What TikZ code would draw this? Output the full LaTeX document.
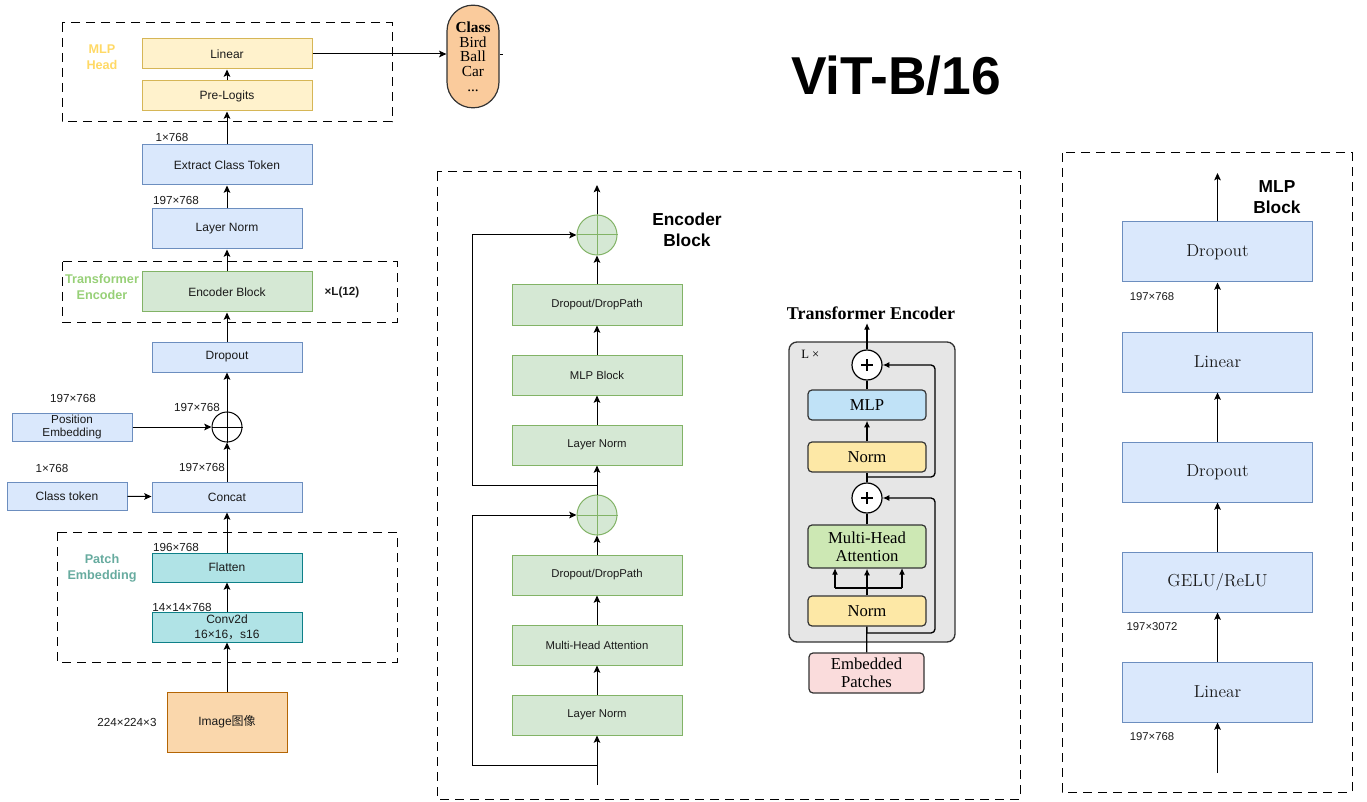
\documentclass[tikz,border=0pt]{standalone}
\usepackage{fontspec}
\newfontfamily\sfA{Liberation Sans}
\newfontfamily\srf{Liberation Serif}
\newfontfamily\cjk{Noto Sans CJK SC}
\usetikzlibrary{arrows.meta,shapes.geometric,calc}
\definecolor{yelF}{HTML}{FFF2CC}\definecolor{yelD}{HTML}{D6B656}
\definecolor{bluF}{HTML}{DAE8FC}\definecolor{bluD}{HTML}{6C8EBF}
\definecolor{grnF}{HTML}{D5E8D4}\definecolor{grnD}{HTML}{82B366}
\definecolor{tealF}{HTML}{B0E3E6}\definecolor{tealD}{HTML}{0E8088}
\definecolor{orF}{HTML}{FAD7AC}\definecolor{orD}{HTML}{B46504}
\definecolor{capF}{HTML}{FACB9C}
\definecolor{grayF}{HTML}{E6E6E6}
\definecolor{bluT}{HTML}{C0E2F7}\definecolor{yelT}{HTML}{FDE8A6}
\definecolor{grnT}{HTML}{CDE8B4}\definecolor{pinkT}{HTML}{FADCDC}
\definecolor{lblY}{HTML}{FFD966}\definecolor{lblG}{HTML}{97D077}\definecolor{lblT}{HTML}{67AB9F}
\definecolor{txt}{HTML}{1A1A1A}
\tikzset{
  base/.style={draw, line width=0.75pt, inner sep=0pt, align=center, text=txt,
    font=\sfA\fontsize{9}{10.5}\selectfont},
  yelbox/.style={base, fill=yelF, draw=yelD, minimum width=127.5pt, minimum height=22.5pt},
  blubox/.style={base, fill=bluF, draw=bluD},
  grnbox/.style={base, fill=grnF, draw=grnD},
  tealbox/.style={base, fill=tealF, draw=tealD, minimum width=112.5pt},
  encbox/.style={grnbox, minimum width=127.5pt, minimum height=30pt, font=\sfA\fontsize{8.5}{10}\selectfont},
  mlpbox/.style={blubox, minimum width=142.5pt, minimum height=45pt, font=\rmfamily\fontsize{13}{15}\selectfont},
  gcirc/.style={circle, draw=grnD, fill=grnF, line width=0.75pt, minimum size=30pt, inner sep=0pt},
  bcirc/.style={circle, draw=black, line width=0.75pt, minimum size=22.5pt, inner sep=0pt},
  dbox/.style={draw, line width=0.75pt, dash pattern=on 6.75pt off 4.5pt},
  lbl/.style={font=\sfA\fontsize{8.75}{10}\selectfont, text=txt, inner sep=0pt},
  seclbl/.style={font=\sfA\bfseries\fontsize{9.5}{12}\selectfont, align=center, inner sep=0pt},
  arr/.style={-{Stealth[length=5.5pt,width=5pt,inset=1.2pt]}, line width=0.75pt},
  tbox/.style={draw=black!80, line width=0.9pt, rounded corners=3pt, inner sep=0pt, align=center,
    minimum width=88.5pt, minimum height=22.5pt, font=\srf\fontsize{12.5}{13}\selectfont},
  tcirc/.style={circle, draw=black, fill=white, line width=0.9pt, minimum size=22.5pt, inner sep=0pt},
  tline/.style={line width=1pt},
  tarr/.style={-{Latex[length=5pt,width=4.5pt]}, line width=1pt},
}
\begin{document}
\begin{tikzpicture}[x=0.75pt,y=-0.75pt]
\useasboundingbox (0,0) rectangle (1367,802);
% ---------------- left column ----------------
\draw[dbox] (62,23) rectangle (392,122);
\draw[dbox] (62,262) rectangle (397,322);
\draw[dbox] (57,532) rectangle (397,662);

\node[yelbox] (lin) at (227,54) {Linear};
\node[yelbox] (pre) at (227,96) {Pre-Logits};
\node[blubox, minimum width=127.5pt, minimum height=30pt] (ect) at (227,165) {Extract Class Token};
\node[blubox, minimum width=112.5pt, minimum height=30pt] (ln) at (227,229) {Layer Norm};
\node[grnbox, minimum width=127.5pt, minimum height=30pt] (enc) at (227,292) {Encoder Block};
\node[blubox, minimum width=112.5pt, minimum height=22.5pt] (drop) at (227,357) {Dropout};
\node[bcirc] (plus) at (227,427) {};
\node[blubox, minimum width=90pt, minimum height=21pt, font=\sfA\fontsize{8.75}{9.5}\selectfont] (pos) at (72,427) {Position\\Embedding};
\node[blubox, minimum width=90pt, minimum height=21pt] (cls) at (67,496) {Class token};
\node[blubox, minimum width=112.5pt, minimum height=22.5pt] (concat) at (227,497) {Concat};
\node[tealbox, minimum height=21.75pt] (flat) at (227,567.5) {Flatten};
\node[tealbox, minimum height=22.5pt, font=\sfA\fontsize{9}{11}\selectfont] (conv) at (227,627) {Conv2d\\16×16{\cjk ，}s16};
\node[base, fill=orF, draw=orD, minimum width=90pt, minimum height=45pt] (img) at (227,722) {Image{\cjk 图像}};
\node[draw=black!80, fill=capF, line width=0.9pt, rounded corners=19.4pt, minimum width=39pt, minimum height=77pt,
  inner sep=0pt, align=center, font=\srf\fontsize{11.5}{11}\selectfont] (cap) at (473,56.5)
  {\textbf{Class}\\Bird\\Ball\\Car\\...};
\coordinate (capstub) at (503,54);

\draw (plus.north) -- (plus.south) (plus.west) -- (plus.east);
\draw[arr] (img) -- (conv);
\draw[arr] (conv) -- (flat);
\draw[arr] (flat) -- (concat);
\draw[arr] (cls) -- (concat);
\draw[arr] (concat) -- (plus);
\draw[arr] (pos) -- (plus);
\draw[arr] (plus) -- (drop);
\draw[arr] (drop) -- (enc);
\draw[arr] (enc) -- (ln);
\draw[arr] (ln) -- (ect);
\draw[arr] (ect) -- (pre);
\draw[arr] (pre) -- (lin);
\draw[arr] (lin.east) -- (lin.east -| cap.west);
\draw[line width=0.6pt] (cap.east |- capstub) -- (capstub);

\node[lbl] (l1) at (172,137) {1×768};
\node[lbl] (l2) at (176,200) {197×768};
\node[lbl] (l3) at (73,398) {197×768};
\node[lbl] (l4) at (197,407) {197×768};
\node[lbl] (l5) at (202,467) {197×768};
\node[lbl] (l6) at (52,468) {1×768};
\node[lbl] (l7) at (176,547) {196×768};
\node[lbl] (l8) at (182,607) {14×14×768};
\node[lbl] (l9) at (127,722) {224×224×3};
\node[lbl, font=\sfA\bfseries\fontsize{8.75}{10}\selectfont] (lx) at (342,292) {×L(12)};
\node[seclbl, text=lblY] (hMLP) at (102,57) {MLP\\Head};
\node[seclbl, text=lblG] (hTE) at (102,287) {Transformer\\Encoder};
\node[seclbl, text=lblT] (hPE) at (102,568) {Patch\\Embedding};

% ---------------- title ----------------
\node[font=\sfA\bfseries\fontsize{40}{44}\selectfont, inner sep=0pt] (title) at (896,76) {ViT-B/16};

% ---------------- encoder block ----------------
\draw[dbox] (437,172) rectangle (1020,799);
\node[gcirc] (c1) at (597,235) {};
\node[encbox] (dp1) at (597,305) {Dropout/DropPath};
\node[encbox] (mlpb) at (597,375) {MLP Block};
\node[encbox] (ln1) at (597,445) {Layer Norm};
\node[gcirc] (c2) at (597,515) {};
\node[encbox] (dp2) at (597,575) {Dropout/DropPath};
\node[encbox] (mha) at (597,645) {Multi-Head Attention};
\node[encbox] (ln2) at (597,715) {Layer Norm};
\coordinate (etop) at (597,185);
\coordinate (ein) at (597,785);
\coordinate (b1) at (597,485);
\coordinate (b2) at (597,765);
\node[font=\sfA\bfseries\fontsize{13}{16}\selectfont, align=center, inner sep=0pt] (hEB) at (687,230) {Encoder\\Block};
\foreach \c in {c1,c2} \draw[grnD, line width=0.75pt] (\c.north) -- (\c.south) (\c.west) -- (\c.east);
\draw[arr] (c1) -- (etop);
\draw[arr] (dp1) -- (c1);
\draw[arr] (mlpb) -- (dp1);
\draw[arr] (ln1) -- (mlpb);
\draw[arr] (c2.north) -- (ln1.south);
\draw[arr] (b1) -- (472,485) -- (472,235) -- (c1.west);
\draw[arr] (dp2) -- (c2);
\draw[arr] (mha) -- (dp2);
\draw[arr] (ln2) -- (mha);
\draw[arr] (ein) -- (ln2.south);
\draw[arr] (b2) -- (472,765) -- (472,515) -- (c2.west);

% ---------------- transformer encoder inset ----------------
\node[font=\srf\bfseries\fontsize{13.5}{15}\selectfont, inner sep=0pt] (tTitle) at (871,313) {Transformer Encoder};
\draw[draw=black!80, fill=grayF, line width=1pt, rounded corners=6pt] (789,342) rectangle (955,642);
\node[font=\srf\fontsize{9.5}{10}\selectfont, anchor=west, inner sep=0pt] (Lx) at (801,354) {L ×};
\node[tcirc] (p1) at (867,365) {};
\node[tbox, fill=bluT] (tmlp) at (867,405) {MLP};
\node[tbox, fill=yelT] (tn1) at (867,457) {Norm};
\node[tcirc] (p2) at (867,498) {};
\node[tbox, fill=grnT, minimum height=32.25pt, font=\srf\fontsize{12.5}{13.5}\selectfont] (tmha) at (867,546.5) {Multi-Head\\Attention};
\node[tbox, fill=yelT] (tn2) at (867,611) {Norm};
\node[tbox, fill=pinkT, minimum width=86.25pt, minimum height=30pt, font=\srf\fontsize{12.5}{13.5}\selectfont] (temb) at (866.5,673) {Embedded\\Patches};
\coordinate (tout) at (867,323);
\foreach \p in {p1,p2} \draw[line width=1.2pt] ($(\p)+(-6,0)$) -- ($(\p)+(6,0)$) ($(\p)+(0,-6)$) -- ($(\p)+(0,6)$);
\draw[tarr] (p1) -- (tout);
\draw[tline] (tmlp) -- (p1);
\draw[tarr] (tn1) -- (tmlp);
\draw[tline] (p2) -- (tn1);
\draw[tarr, rounded corners=3pt] (867,477) -- (935,477) -- (935,365) -- (p1.east);
\draw[tline] (tmha) -- (p2);
\draw[tarr] (tn2) -- (tmha);
\draw[tline] (835,588) -- (902,588);
\draw[tarr] (835,588) -- (835,568);
\draw[tarr] (902,588) -- (902,568);
\draw[tline] (temb) -- (tn2);
\draw[tarr, rounded corners=3pt] (867,633) -- (935,633) -- (935,498) -- (p2.east);

% ---------------- MLP block ----------------
\draw[dbox] (1062,153) rectangle (1352,792);
\node[mlpbox] (md1) at (1217.5,252) {Dropout};
\node[mlpbox] (ml1) at (1217.5,362) {Linear};
\node[mlpbox] (md2) at (1217.5,472) {Dropout};
\node[mlpbox] (gelu) at (1217.5,582) {GELU/ReLU};
\node[mlpbox] (ml2) at (1217.5,692) {Linear};
\coordinate (mtop) at (1217.5,173);
\coordinate (min) at (1217.5,773);
\node[font=\sfA\bfseries\fontsize{13}{16}\selectfont, align=center, inner sep=0pt] (hMB) at (1277,197) {MLP\\Block};
\node[lbl, font=\sfA\fontsize{8.5}{10}\selectfont] (m1) at (1152,297) {197×768};
\node[lbl, font=\sfA\fontsize{8.5}{10}\selectfont] (m2) at (1152,627) {197×3072};
\node[lbl, font=\sfA\fontsize{8.5}{10}\selectfont] (m3) at (1152,737) {197×768};
\draw[arr] (md1) -- (mtop);
\draw[arr] (ml1) -- (md1);
\draw[arr] (md2) -- (ml1);
\draw[arr] (gelu) -- (md2);
\draw[arr] (ml2) -- (gelu);
\draw[arr] (min) -- (ml2.south);
\end{tikzpicture}
\end{document}
